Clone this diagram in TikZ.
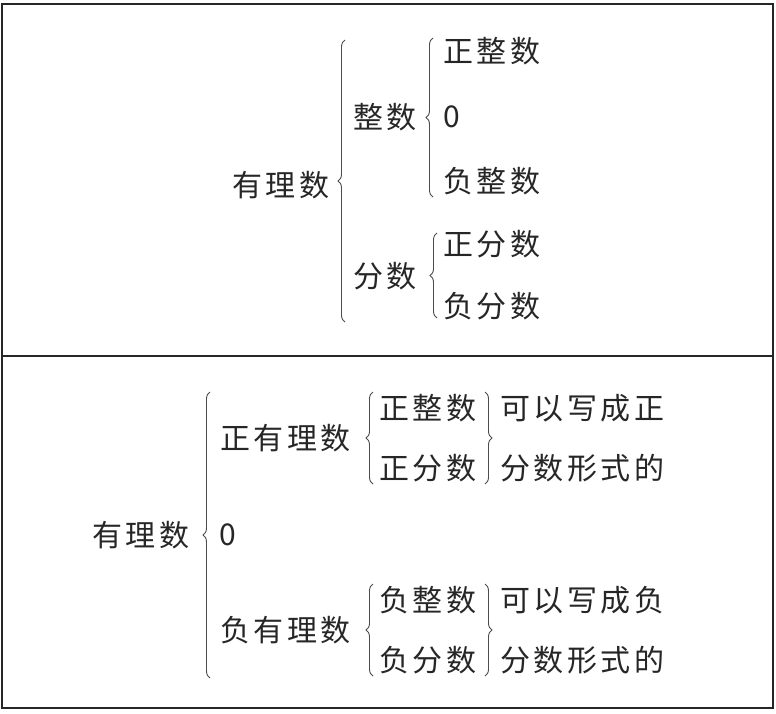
\documentclass[tikz,border=0pt]{standalone}
\usepackage{fontspec}
\newfontfamily\cjk[LetterSpace=12]{Noto Sans CJK SC}
\usetikzlibrary{decorations.pathreplacing}
\begin{document}
\begin{tikzpicture}[x=1pt,y=-1pt,
  lbl/.style={anchor=west,inner sep=0pt,font=\cjk\fontsize{30}{32}\selectfont,text=black!85},
  br/.style={draw=black!70,line width=0.9pt,decorate,decoration={brace,amplitude=7pt}}]
\useasboundingbox (0,0) rectangle (776,713);
\draw[line width=1.8pt,black!85] (2,4) rectangle (773,708);
\draw[line width=1.5pt,black!85] (2,356) -- (773,356);
% top half
\node[lbl] (q) at (232,185) {有理数};
\node[lbl] (z) at (353,117) {整数};
\node[lbl] (f) at (353,276) {分数};
\node[lbl] (pz) at (443,51) {正整数};
\node[lbl] (zero1) at (443,117) {0};
\node[lbl] (nz) at (443,181) {负整数};
\node[lbl] (pf) at (443,244) {正分数};
\node[lbl] (nf) at (443,306) {负分数};
\coordinate (b1a) at (345,322); \coordinate (b1b) at (345,40);
\draw[br] (b1a) -- (b1b);
\coordinate (b2a) at (433,197); \coordinate (b2b) at (433,38);
\draw[br] (b2a) -- (b2b);
\coordinate (b3a) at (437,318); \coordinate (b3b) at (437,233);
\draw[br] (b3a) -- (b3b);
% bottom half
\node[lbl] (Q) at (92,535) {有理数};
\node[lbl] (zero2) at (219,535) {0};
\node[lbl] (pq) at (220,438) {正有理数};
\node[lbl] (nq) at (220,630) {负有理数};
\node[lbl] (pz2) at (379,408) {正整数};
\node[lbl] (pf2) at (379,468) {正分数};
\node[lbl] (nz2) at (379,600) {负整数};
\node[lbl] (nf2) at (379,660) {负分数};
\node[lbl] (t1) at (500,408) {可以写成正};
\node[lbl] (t2) at (500,468) {分数形式的};
\node[lbl] (t3) at (500,600) {可以写成负};
\node[lbl] (t4) at (500,660) {分数形式的};
\coordinate (B1a) at (210,678); \coordinate (B1b) at (210,392);
\draw[br] (B1a) -- (B1b);
\coordinate (B2a) at (373,484); \coordinate (B2b) at (373,392);
\draw[br] (B2a) -- (B2b);
\coordinate (B3a) at (373,676); \coordinate (B3b) at (373,584);
\draw[br] (B3a) -- (B3b);
\coordinate (C2a) at (485,392); \coordinate (C2b) at (485,484);
\draw[br] (C2a) -- (C2b);
\coordinate (C3a) at (485,584); \coordinate (C3b) at (485,676);
\draw[br] (C3a) -- (C3b);
\end{tikzpicture}
\end{document}
